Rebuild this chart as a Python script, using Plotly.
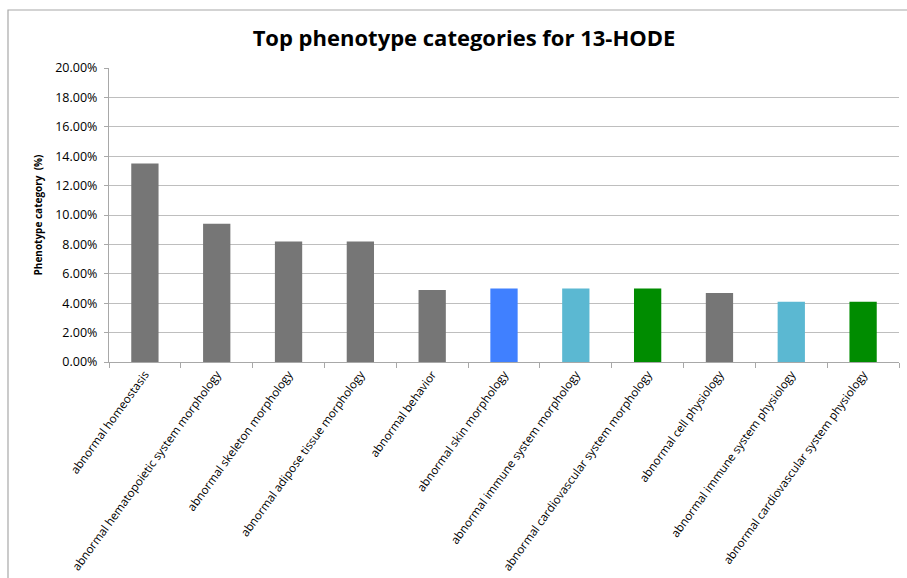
import plotly.graph_objects as go

categories = [
    "abnormal homeostasis",
    "abnormal hematopoietic system morphology",
    "abnormal skeleton morphology",
    "abnormal adipose tissue morphology",
    "abnormal behavior",
    "abnormal skin morphology",
    "abnormal immune system morphology",
    "abnormal cardiovascular system morphology",
    "abnormal cell physiology",
    "abnormal immune system physiology",
    "abnormal cardiovascular system physiology",
]
values = [13.5, 9.4, 8.2, 8.2, 4.9, 5.0, 5.0, 5.0, 4.7, 4.1, 4.1]
bar_colors = ["#767676", "#767676", "#767676", "#767676", "#767676",
              "#4080FF", "#5BB8D2", "#008C00", "#767676", "#5BB8D2", "#008C00"]
y_ticks = [0, 2, 4, 6, 8, 10, 12, 14, 16, 18, 20]

font_family = "Open Sans, Liberation Sans, sans-serif"

fig = go.Figure(go.Bar(
    x=categories, y=values,
    marker=dict(color=bar_colors, line=dict(width=0)),
    width=0.38,
))

fig.update_layout(
    width=907, height=578,
    margin=dict(l=109, r=8, t=68, b=216),
    paper_bgcolor="white", plot_bgcolor="white",
    showlegend=False,
    title=dict(text="<b>Top phenotype categories for 13-HODE</b>",
               x=(464 - 109) / 790, xref="paper", xanchor="center",
               y=1 - 38 / 578, yanchor="middle",
               font=dict(family=font_family, size=22, color="black")),
    font=dict(family=font_family, color="black"),
    shapes=[dict(type="rect", xref="paper", yref="paper",
                 x0=-101 / 790, x1=1.1, y0=-0.9, y1=(362 - 10) / 294,
                 line=dict(color="#A8A8A8", width=1.2), fillcolor="rgba(0,0,0,0)",
                 layer="below")],
)
fig.update_yaxes(
    range=[0, 20], tickvals=y_ticks,
    ticktext=[f"{v:.2f}%" for v in y_ticks],
    showgrid=True, gridcolor="#BEBEBE", gridwidth=1.3,
    showline=True, linecolor="#A8A8A8", linewidth=1.2,
    ticks="outside", ticklen=4, tickcolor="#A8A8A8",
    ticklabelstandoff=4, automargin=False,
    tickfont=dict(size=12.5, color="black"),
    zeroline=False,
    title=dict(text="<b>Phenotype category  (%)</b>", font=dict(size=10, color="black"), standoff=10),
)
fig.update_xaxes(
    tickangle=-54, tickfont=dict(size=11.6, color="black"),
    showline=True, linecolor="#A8A8A8", linewidth=1.2,
    ticks="outside", ticklen=5, tickcolor="#A8A8A8", tickson="boundaries",
    showgrid=False, automargin=False,
)

fig.write_html("out.html")
